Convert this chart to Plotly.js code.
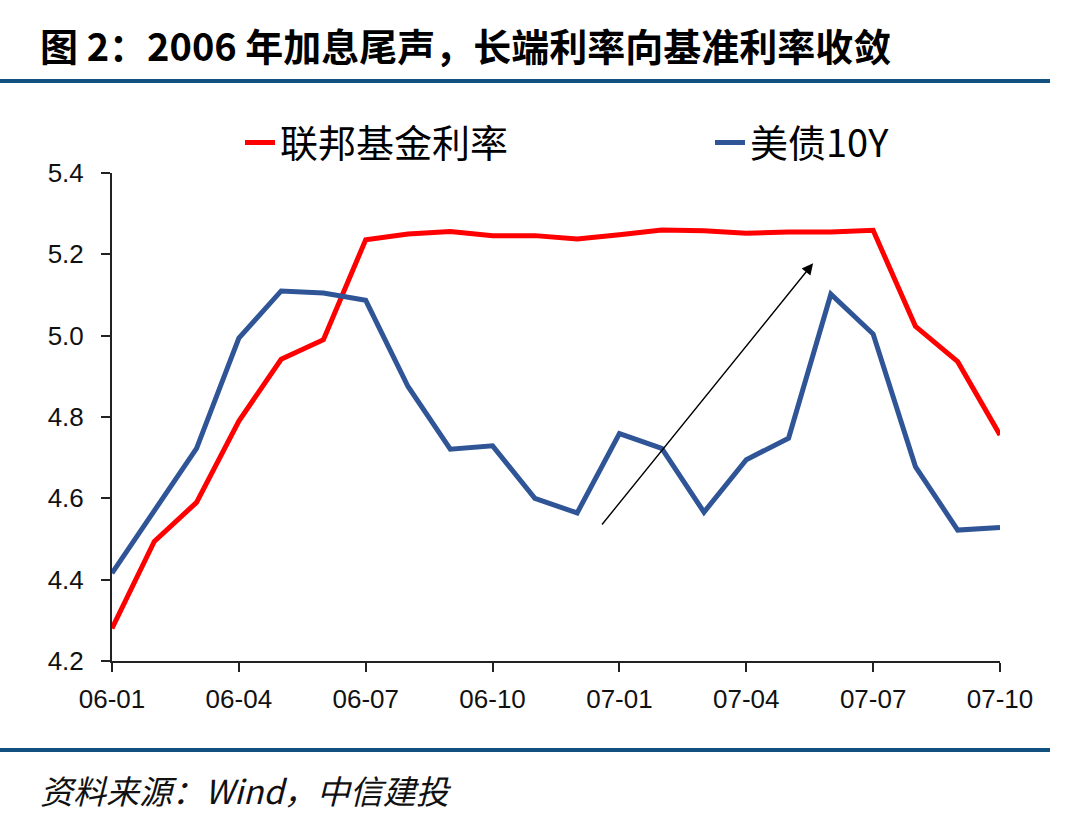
<!DOCTYPE html>
<html>
<head>
<meta charset="utf-8">
<script src="https://cdn.plot.ly/plotly-3.0.1.min.js"></script>
<style>
  html, body { margin: 0; padding: 0; background: #fff; }
  #chart { width: 1080px; height: 821px; }
</style>
</head>
<body>
<div id="chart"></div>
<script>
// ---- data ----
const months = ['06-01','06-02','06-03','06-04','06-05','06-06','06-07','06-08','06-09','06-10','06-11','06-12',
                '07-01','07-02','07-03','07-04','07-05','07-06','07-07','07-08','07-09','07-10'];
const fedFunds = [4.28,4.494,4.59,4.79,4.942,4.99,5.236,5.25,5.256,5.246,5.246,5.238,
                  5.248,5.26,5.258,5.252,5.255,5.255,5.259,5.023,4.936,4.756];
const us10y = [4.416,4.57,4.723,4.994,5.11,5.105,5.087,4.875,4.721,4.729,4.60,4.564,
               4.759,4.723,4.566,4.695,4.748,5.102,5.004,4.678,4.522,4.528];
const tickMonths = ['06-01','06-04','06-07','06-10','07-01','07-04','07-07','07-10'];
const seriesNames = ['联邦基金利率', '美债10Y'];
const titleText = '图 2：2006 年加息尾声，长端利率向基准利率收敛';
const sourceText = '资料来源：Wind，中信建投';
// arrow (data coords: month index, rate)
const arrowFrom = [11.56, 4.532];
const arrowTo = [16.58, 5.178];

const traces = [
  { x: months, y: fedFunds, name: seriesNames[0], type: 'scatter', mode: 'lines',
    line: { color: '#FF0000', width: 5 }, legend: 'legend' },
  { x: months, y: us10y, name: seriesNames[1], type: 'scatter', mode: 'lines',
    line: { color: '#2F5597', width: 5 }, legend: 'legend2' }
];

const axisCommon = {
  showline: true, linecolor: '#222', linewidth: 2,
  ticks: 'outside', ticklen: 9, tickwidth: 2, tickcolor: '#222',
  showgrid: false, zeroline: false,
  tickfont: { family: 'Liberation Sans, Arial, sans-serif', size: 26, color: '#111' }
};

const legendCommon = {
  orientation: 'h', xanchor: 'left', yanchor: 'middle', y: 1.062,
  font: { family: 'Noto Sans CJK SC, Liberation Sans', size: 38, color: '#000' },
  bgcolor: 'rgba(0,0,0,0)', borderwidth: 0
};

const layout = {
  width: 1080, height: 821,
  margin: { l: 112, r: 80, t: 173, b: 160 },
  paper_bgcolor: '#fff', plot_bgcolor: '#fff',
  title: {
    text: '<b>' + titleText + '</b>',
    font: { family: 'Noto Sans CJK SC', size: 38, color: '#000' },
    x: 40 / 1080, xanchor: 'left', xref: 'container',
    y: 1 - 48 / 821, yanchor: 'middle', yref: 'container'
  },
  xaxis: Object.assign({}, axisCommon, {
    type: 'category', range: [0, months.length - 1],
    tickvals: tickMonths, ticktext: tickMonths,
    ticklabelstandoff: 5
  }),
  yaxis: Object.assign({}, axisCommon, {
    range: [4.2, 5.4], dtick: 0.2, tickformat: '.1f',
    ticklabelstandoff: 12
  }),
  showlegend: true,
  legend: Object.assign({}, legendCommon, { x: (240 - 112) / 888 }),
  legend2: Object.assign({}, legendCommon, { x: (710 - 112) / 888 }),
  shapes: [
    { type: 'line', xref: 'paper', yref: 'paper', x0: -112/888, x1: (1050-112)/888,
      y0: (661-81)/488, y1: (661-81)/488, line: { color: '#11507F', width: 4 } },
    { type: 'line', xref: 'paper', yref: 'paper', x0: -112/888, x1: (1050-112)/888,
      y0: (661-750)/488, y1: (661-750)/488, line: { color: '#11507F', width: 4 } }
  ],
  annotations: [
    { xref: 'x', yref: 'y', axref: 'x', ayref: 'y',
      x: arrowTo[0], y: arrowTo[1], ax: arrowFrom[0], ay: arrowFrom[1],
      showarrow: true, arrowhead: 2, arrowsize: 1.6, arrowwidth: 1.4, arrowcolor: '#000', text: '' },
    { xref: 'paper', yref: 'paper', x: (38-112)/888, y: (661-790)/488,
      xanchor: 'left', yanchor: 'middle', showarrow: false,
      text: '<i>' + sourceText + '</i>',
      font: { family: 'Noto Sans CJK SC', size: 33, color: '#111' } }
  ]
};

Plotly.newPlot('chart', traces, layout, { displayModeBar: false, staticPlot: true });
</script>
</body>
</html>
